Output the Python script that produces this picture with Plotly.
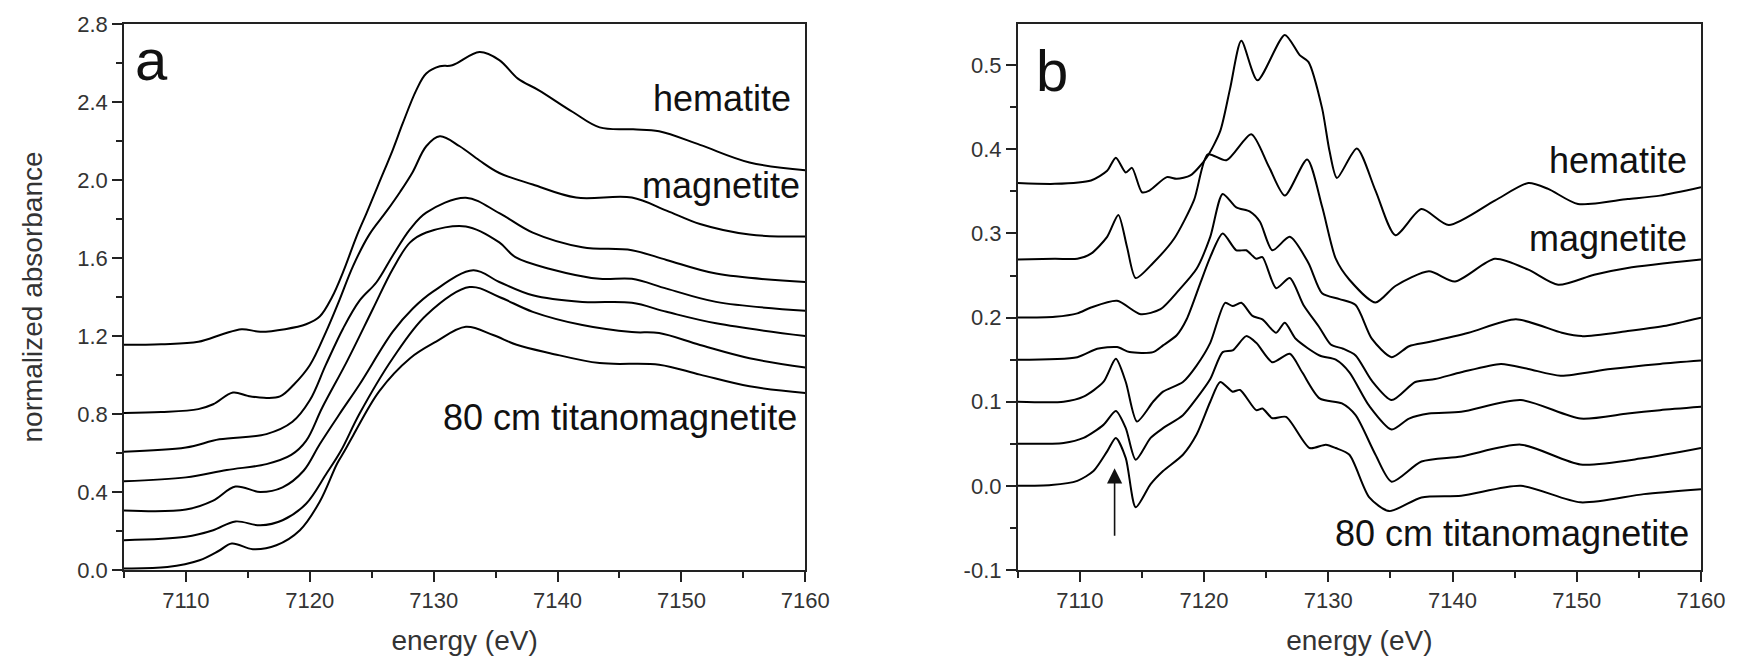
import plotly.graph_objects as go

# ---------------- Panel a : normalized absorbance ----------------
a_hem_E = [7105, 7108, 7111, 7113, 7114.5, 7116, 7118, 7119.7, 7120.8, 7121.8, 7122.7, 7123.8, 7124.6, 7125.6, 7126.7, 7127.5, 7128.6, 7129.4, 7130.5, 7131.5, 7133.7, 7135.3, 7136.8, 7138.5, 7141.2, 7143.4, 7146.1, 7148.2, 7151.5, 7155.5, 7160]
a_hem_V = [1.155, 1.158, 1.17, 1.21, 1.235, 1.222, 1.235, 1.26, 1.30, 1.40, 1.53, 1.715, 1.833, 1.986, 2.155, 2.29, 2.461, 2.546, 2.583, 2.588, 2.656, 2.615, 2.52, 2.46, 2.35, 2.27, 2.26, 2.25, 2.18, 2.09, 2.05]

a_mag_E = [7105, 7108, 7111, 7112.2, 7113.8, 7115, 7116.3, 7117.6, 7118.7, 7120, 7121.3, 7122.3, 7123.5, 7124.8, 7126.2, 7127.3, 7128.3, 7129.4, 7130.5, 7132.1, 7133.7, 7135.3, 7138, 7141.5, 7146, 7148.8, 7151.5, 7155.5, 7160]
a_mag_V = [0.805, 0.81, 0.825, 0.85, 0.91, 0.893, 0.883, 0.89, 0.95, 1.05, 1.22, 1.37, 1.56, 1.72, 1.84, 1.94, 2.04, 2.173, 2.224, 2.173, 2.10, 2.036, 1.977, 1.91, 1.91, 1.843, 1.774, 1.72, 1.71]

a_s3_E = [7105, 7110, 7112.7, 7116.5, 7118.6, 7120, 7121.3, 7122.7, 7124, 7125.4, 7126.7, 7128.1, 7129.4, 7132.6, 7135.3, 7138, 7142, 7146, 7148.8, 7152.8, 7160]
a_s3_V = [0.607, 0.628, 0.67, 0.697, 0.76, 0.87, 1.053, 1.24, 1.38, 1.477, 1.613, 1.748, 1.833, 1.909, 1.83, 1.73, 1.655, 1.64, 1.59, 1.52, 1.477]

a_s4_E = [7105, 7110, 7113.3, 7116.5, 7118.5, 7119.7, 7121, 7123, 7125.1, 7126.7, 7128.1, 7129.4, 7132.6, 7135.3, 7136.6, 7139.4, 7143.4, 7146, 7148.8, 7152.8, 7160]
a_s4_V = [0.455, 0.475, 0.513, 0.543, 0.59, 0.662, 0.832, 1.07, 1.34, 1.544, 1.68, 1.731, 1.762, 1.68, 1.604, 1.544, 1.493, 1.493, 1.443, 1.375, 1.33]

a_s5_E = [7105, 7110, 7112.2, 7114, 7116, 7117.8, 7119.5, 7120.8, 7122.4, 7124, 7126.7, 7128.3, 7130, 7133.2, 7135.3, 7138, 7142, 7146, 7148.8, 7152.8, 7160]
a_s5_V = [0.305, 0.31, 0.356, 0.428, 0.40, 0.424, 0.509, 0.645, 0.80, 0.95, 1.222, 1.34, 1.43, 1.537, 1.477, 1.409, 1.375, 1.37, 1.324, 1.265, 1.20]

a_s6_E = [7105, 7110, 7112.2, 7114, 7116, 7117.8, 7119.7, 7121.3, 7122.5, 7124, 7126.7, 7129.4, 7132.9, 7135.3, 7138, 7142, 7146, 7148.2, 7151.5, 7155.5, 7160]
a_s6_V = [0.153, 0.17, 0.204, 0.249, 0.229, 0.255, 0.34, 0.49, 0.61, 0.80, 1.086, 1.307, 1.451, 1.40, 1.324, 1.256, 1.22, 1.215, 1.154, 1.086, 1.039]

a_s7_E = [7105, 7108.5, 7111.1, 7112.7, 7113.7, 7115.4, 7117.3, 7119.2, 7120.8, 7122.2, 7122.8, 7123.5, 7125.6, 7128.1, 7130.2, 7132.6, 7134.8, 7136.7, 7139.4, 7143.4, 7148.2, 7151.5, 7155.5, 7160]
a_s7_V = [0.008, 0.015, 0.05, 0.10, 0.136, 0.107, 0.127, 0.204, 0.35, 0.545, 0.61, 0.69, 0.916, 1.086, 1.171, 1.247, 1.205, 1.155, 1.112, 1.061, 1.053, 1.002, 0.942, 0.908]

# ---------------- Panel b : derivative-like spectra ----------------
b_hem_E = [7105, 7108, 7110.9, 7112.2, 7112.9, 7113.7, 7114.2, 7115, 7115.6, 7117, 7117.8, 7118.9, 7120.2, 7121.3, 7122.1, 7123, 7124.3, 7126.5, 7127.7, 7128.4, 7129.5, 7130.1, 7130.7, 7132.3, 7133.8, 7135.4, 7137.5, 7139.7, 7143.4, 7146.1, 7147.7, 7150.1, 7154.1, 7156.7, 7160]
b_hem_V = [0.36, 0.359, 0.363, 0.3745, 0.39, 0.3725, 0.378, 0.349, 0.351, 0.367, 0.365, 0.369, 0.39, 0.4216, 0.4725, 0.529, 0.482, 0.536, 0.512, 0.504, 0.449, 0.398, 0.366, 0.401, 0.351, 0.298, 0.329, 0.31, 0.339, 0.36, 0.353, 0.335, 0.341, 0.345, 0.355]

b_mag_E = [7105, 7108, 7109.8, 7110.9, 7112.2, 7113.1, 7113.8, 7114.5, 7115.9, 7117.6, 7119.2, 7120.3, 7121.8, 7123.8, 7125.2, 7126.5, 7128.3, 7129.5, 7130.6, 7131.7, 7133.8, 7135.4, 7138.1, 7140.2, 7143.4, 7146.1, 7148.5, 7151.4, 7154.1, 7160]
b_mag_V = [0.269, 0.27, 0.27, 0.276, 0.296, 0.322, 0.284, 0.247, 0.265, 0.294, 0.34, 0.394, 0.387, 0.418, 0.38, 0.345, 0.388, 0.332, 0.27, 0.245, 0.218, 0.2376, 0.255, 0.243, 0.27, 0.257, 0.239, 0.251, 0.259, 0.269]

b_s3_E = [7105, 7108, 7109.8, 7110.9, 7113, 7114.9, 7116.5, 7118, 7119.4, 7120.5, 7121.5, 7122.6, 7123.7, 7124.5, 7125.5, 7126.9, 7128.4, 7129.5, 7130.9, 7132.2, 7133.5, 7135.1, 7136.5, 7138.1, 7141.3, 7145.1, 7148.8, 7150.4, 7154.1, 7157, 7160]
b_s3_V = [0.20, 0.201, 0.205, 0.212, 0.22, 0.204, 0.21, 0.233, 0.258, 0.296, 0.347, 0.331, 0.326, 0.314, 0.28, 0.296, 0.265, 0.229, 0.222, 0.215, 0.175, 0.153, 0.166, 0.171, 0.182, 0.198, 0.182, 0.178, 0.184, 0.19, 0.20]

b_s4_E = [7105, 7109.8, 7111.4, 7113, 7114, 7115.9, 7116.7, 7117.8, 7118.6, 7119.7, 7120.5, 7121.5, 7122.6, 7123.4, 7124.2, 7124.7, 7125.8, 7126.9, 7128, 7129.3, 7130.2, 7131.2, 7132.2, 7133.5, 7135.1, 7137, 7138.6, 7140.7, 7143.9, 7146.1, 7148.7, 7152.7, 7156.7, 7160]
b_s4_V = [0.15, 0.153, 0.163, 0.165, 0.159, 0.159, 0.167, 0.179, 0.198, 0.241, 0.272, 0.30, 0.28, 0.28, 0.27, 0.272, 0.235, 0.247, 0.215, 0.188, 0.168, 0.163, 0.155, 0.125, 0.102, 0.1235, 0.127, 0.135, 0.145, 0.139, 0.131, 0.139, 0.145, 0.149]

b_s5_E = [7105, 7108.7, 7110.3, 7111.9, 7112.9, 7113.7, 7114.6, 7115.9, 7116.7, 7118.3, 7119.4, 7120.5, 7121.7, 7122.3, 7123, 7123.9, 7124.7, 7125.8, 7126.5, 7127.4, 7129.3, 7130.6, 7131.7, 7133.3, 7135.1, 7136.5, 7138.1, 7140.7, 7145.5, 7150.3, 7154.1, 7156.7, 7160]
b_s5_V = [0.10, 0.10, 0.106, 0.1235, 0.151, 0.1235, 0.0765, 0.10, 0.112, 0.1235, 0.143, 0.17, 0.2176, 0.2137, 0.2176, 0.202, 0.198, 0.182, 0.194, 0.1745, 0.155, 0.15, 0.135, 0.095, 0.067, 0.08, 0.086, 0.088, 0.102, 0.08, 0.086, 0.09, 0.094]

b_s6_E = [7105, 7108.7, 7110.3, 7111.9, 7112.9, 7113.7, 7114.5, 7115.7, 7116.7, 7118.3, 7119.4, 7120.5, 7121.5, 7122.3, 7123.4, 7124.2, 7125.5, 7126.9, 7127.9, 7129.3, 7131.1, 7132.2, 7133.8, 7135.1, 7137.5, 7140.7, 7145.5, 7150.3, 7155.4, 7160]
b_s6_V = [0.05, 0.051, 0.057, 0.0725, 0.089, 0.0686, 0.031, 0.057, 0.0686, 0.084, 0.104, 0.127, 0.159, 0.161, 0.178, 0.17, 0.147, 0.157, 0.135, 0.104, 0.098, 0.084, 0.037, 0.005, 0.029, 0.035, 0.049, 0.0255, 0.033, 0.045]

b_s7_E = [7105, 7107.7, 7109.8, 7111.1, 7112.2, 7112.9, 7113.7, 7114.5, 7115.7, 7116.7, 7118.3, 7119.4, 7120.5, 7121.3, 7122.3, 7122.9, 7124.2, 7124.7, 7125.5, 7126.6, 7128.5, 7129.8, 7130.6, 7131.7, 7133.3, 7134.9, 7137.5, 7140.7, 7145.5, 7150.3, 7155.4, 7160]
b_s7_V = [0.0, 0.001, 0.006, 0.0176, 0.041, 0.057, 0.033, -0.0255, 0.002, 0.0176, 0.037, 0.061, 0.10, 0.1235, 0.112, 0.114, 0.09, 0.092, 0.0804, 0.082, 0.045, 0.049, 0.045, 0.037, -0.0137, -0.03, -0.0137, -0.0118, 0.0, -0.0196, -0.0098, -0.004]

a_yticks = [0.0, 0.4, 0.8, 1.2, 1.6, 2.0, 2.4, 2.8]
b_yticks = [-0.1, 0.0, 0.1, 0.2, 0.3, 0.4, 0.5]
b_yticklabels = ["-0.1", "0.0", "0.1", "0.2", "0.3", "0.4", "0.5"]
x_ticks = [7110, 7120, 7130, 7140, 7150, 7160]

FONT = "Liberation Sans, Arial, sans-serif"
fig = go.Figure()

panel_a = [(a_hem_E, a_hem_V), (a_mag_E, a_mag_V), (a_s3_E, a_s3_V), (a_s4_E, a_s4_V),
           (a_s5_E, a_s5_V), (a_s6_E, a_s6_V), (a_s7_E, a_s7_V)]
panel_b = [(b_hem_E, b_hem_V), (b_mag_E, b_mag_V), (b_s3_E, b_s3_V), (b_s4_E, b_s4_V),
           (b_s5_E, b_s5_V), (b_s6_E, b_s6_V), (b_s7_E, b_s7_V)]

for E, V in panel_a:
    fig.add_trace(go.Scatter(x=E, y=V, mode="lines", xaxis="x", yaxis="y",
                             line=dict(color="black", width=2, shape="spline", smoothing=1.0),
                             showlegend=False, hoverinfo="skip"))
for E, V in panel_b:
    fig.add_trace(go.Scatter(x=E, y=V, mode="lines", xaxis="x2", yaxis="y2",
                             line=dict(color="black", width=2, shape="spline", smoothing=0.7),
                             showlegend=False, hoverinfo="skip"))

axis_common = dict(showline=True, linecolor="#222", linewidth=1.5, mirror=True,
                   showgrid=False, zeroline=False, ticks="outside", ticklen=10,
                   tickwidth=1.5, tickcolor="#222",
                   tickfont=dict(family=FONT, size=22, color="#333"))

xminor = dict(ticks="outside", tick0=7105, dtick=5, ticklen=6, tickwidth=1.5,
              tickcolor="#222", showgrid=False)

TITLE_FONT = dict(family=FONT, size=28, color="#333")

fig.update_layout(
    width=1737, height=664,
    margin=dict(l=124, r=32, t=20, b=94),
    paper_bgcolor="white", plot_bgcolor="white",
    font=dict(family=FONT, color="#333"),
    xaxis=dict(domain=[0, 0.432], range=[7105, 7160], anchor="y",
               tickmode="array", tickvals=x_ticks, minor=xminor,
               title=dict(text="energy (eV)", font=TITLE_FONT, standoff=18),
               **axis_common),
    yaxis=dict(domain=[0, 1], range=[0, 2.8], anchor="x",
               tickmode="array", tickvals=a_yticks, tickformat=".1f",
               minor=dict(ticks="outside", tick0=0, dtick=0.2, ticklen=6, tickwidth=1.5,
                          tickcolor="#222", showgrid=False),
               title=dict(text="normalized absorbance", font=TITLE_FONT, standoff=26),
               **axis_common),
    xaxis2=dict(domain=[0.5667, 1], range=[7105, 7160], anchor="y2",
                tickmode="array", tickvals=x_ticks, minor=xminor,
                title=dict(text="energy (eV)", font=TITLE_FONT, standoff=18),
                **axis_common),
    yaxis2=dict(domain=[0, 1], range=[-0.1, 0.549], anchor="x2",
                tickmode="array", tickvals=b_yticks, ticktext=b_yticklabels,
                minor=dict(ticks="outside", tick0=-0.1, dtick=0.05, ticklen=6, tickwidth=1.5,
                           tickcolor="#222", showgrid=False),
                **axis_common),
)

def label(text, x, y, xref, yref, size, xanchor="right"):
    return dict(text=text, x=x, y=y, xref=xref, yref=yref, showarrow=False,
                xanchor=xanchor, yanchor="middle",
                font=dict(family=FONT, size=size, color="#111"))

annotations = [
    label("a", 7105.75, 2.62, "x", "y", 58, xanchor="left"),
    label("hematite", 7159.0, 2.42, "x", "y", 36),
    label("magnetite", 7159.7, 1.97, "x", "y", 36),
    label("80 cm titanomagnetite", 7159.5, 0.784, "x", "y", 36),
    label("b", 7106.3, 0.494, "x2", "y2", 58, xanchor="left"),
    label("hematite", 7159.0, 0.3865, "x2", "y2", 36),
    label("magnetite", 7159.0, 0.294, "x2", "y2", 36),
    label("80 cm titanomagnetite", 7159.2, -0.0568, "x2", "y2", 36),
    dict(text="", x=7112.8, y=0.021, xref="x2", yref="y2",
         ax=7112.8, ay=-0.061, axref="x2", ayref="y2",
         showarrow=True, arrowhead=2, arrowsize=1.9, arrowwidth=1.6,
         arrowcolor="#111", standoff=0),
]
fig.update_layout(annotations=annotations)

fig.write_html("out.html")
